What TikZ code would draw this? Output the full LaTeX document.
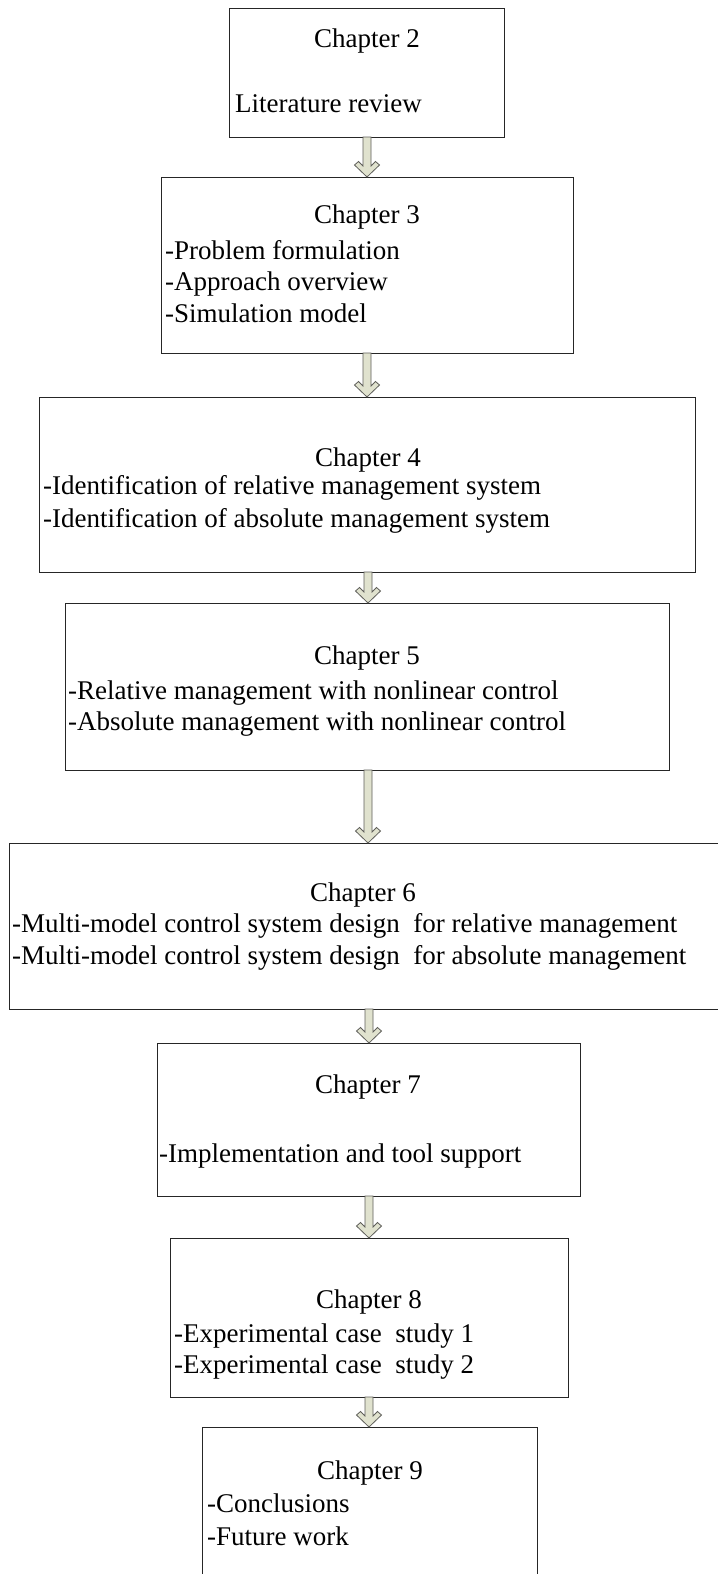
\documentclass[tikz,border=0pt]{standalone}
\usepackage{fontspec}
\setmainfont{Liberation Serif}
\usetikzlibrary{calc}

\definecolor{arrowfill}{RGB}{224,226,206}
\definecolor{arrowedge}{RGB}{95,95,90}

\tikzset{
  chbox/.style={draw=black!85, line width=0.9bp, rectangle, inner sep=0pt,
                outer sep=0pt, anchor=north west},
  heading/.style={anchor=base, inner sep=0pt, font=\fontsize{27bp}{32bp}\selectfont},
  item/.style={anchor=base west, inner sep=0pt, font=\fontsize{27bp}{32bp}\selectfont},
  flowarrow/.style={draw=arrowedge, fill=arrowfill, line width=0.8bp, line join=miter}
}

% hollow block arrow with a chevron head, from the bottom of one box to the top of the next
\newcommand\chevronarrow[3]{%
  \draw[flowarrow] let \p1=(#2.south), \p2=(#3.north) in
    ({#1*1bp-4bp},\y1) -- ({#1*1bp-4bp},{\y2+11bp}) -- ({#1*1bp-8.5bp},{\y2+15.5bp})
    -- ({#1*1bp-12.5bp},{\y2+12bp}) -- ({#1*1bp},\y2) -- ({#1*1bp+12.5bp},{\y2+12bp})
    -- ({#1*1bp+8.5bp},{\y2+15.5bp}) -- ({#1*1bp+4bp},{\y2+11bp}) -- ({#1*1bp+4bp},\y1) -- cycle;}

\begin{document}
\begin{tikzpicture}[x=1bp, y=-1bp]
\useasboundingbox (0,0) rectangle (718,1574);
\clip (0,0) rectangle (718,1574);
\fill[white] (0,0) rectangle (718,1574);

% chapter boxes
\node[chbox, minimum width=275bp, minimum height=129bp] (c2) at (229,8) {};
\node[chbox, minimum width=412bp, minimum height=176bp] (c3) at (161,177) {};
\node[chbox, minimum width=656bp, minimum height=175bp] (c4) at (39,397) {};
\node[chbox, minimum width=604bp, minimum height=167bp] (c5) at (65,603) {};
\node[chbox, minimum width=730bp, minimum height=166bp] (c6) at (9,843) {};
\node[chbox, minimum width=423bp, minimum height=153bp] (c7) at (157,1043) {};
\node[chbox, minimum width=398bp, minimum height=159bp] (c8) at (170,1238) {};
\node[chbox, minimum width=335bp, minimum height=200bp] (c9) at (202,1427) {};

% chapter texts
\node[heading] (h2) at (367,48) {Chapter 2};
\node[item] (a2) at (235,113) {Literature review};

\node[heading] (h3) at (367,223) {Chapter 3};
\node[item] (a3) at (165,259) {-Problem formulation};
\node[item] (b3) at (165,290) {-Approach overview};
\node[item] (d3) at (165,322) {-Simulation model};

\node[heading] (h4) at (368,466) {Chapter 4};
\node[item] (a4) at (43,494) {-Identification of relative management system};
\node[item] (b4) at (43,527) {-Identification of absolute management system};

\node[heading] (h5) at (367,664) {Chapter 5};
\node[item] (a5) at (68,699) {-Relative management with nonlinear control};
\node[item] (b5) at (68,730) {-Absolute management with nonlinear control};

\node[heading] (h6) at (363,901) {Chapter 6};
\node[item] (a6) at (12,932) {-Multi-model control system design~ for relative management};
\node[item] (b6) at (12,964) {-Multi-model control system design~ for absolute management};

\node[heading] (h7) at (368,1093) {Chapter 7};
\node[item] (a7) at (159,1162) {-Implementation and tool support};

\node[heading] (h8) at (369,1308) {Chapter 8};
\node[item] (a8) at (174,1342) {-Experimental case~ study 1};
\node[item] (b8) at (174,1373) {-Experimental case~ study 2};

\node[heading] (h9) at (370,1479) {Chapter 9};
\node[item] (a9) at (207,1512) {-Conclusions};
\node[item] (b9) at (207,1545) {-Future work};

% connectors
\chevronarrow{367}{c2}{c3}
\chevronarrow{367}{c3}{c4}
\chevronarrow{368}{c4}{c5}
\chevronarrow{368}{c5}{c6}
\chevronarrow{369}{c6}{c7}
\chevronarrow{369}{c7}{c8}
\chevronarrow{369}{c8}{c9}
\end{tikzpicture}
\end{document}
